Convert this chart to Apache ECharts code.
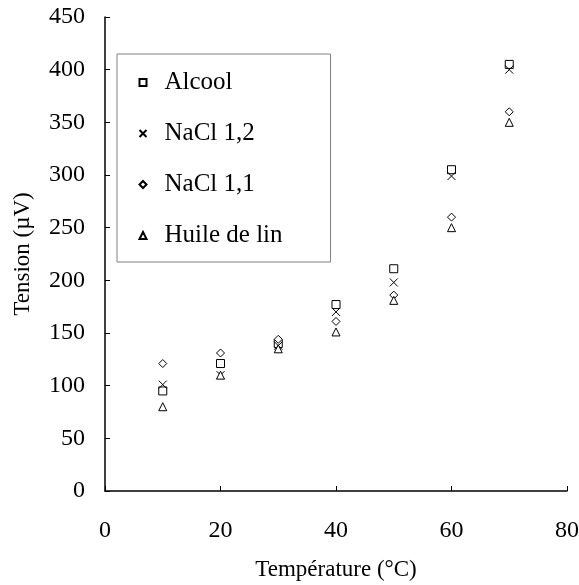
<!DOCTYPE html>
<html>
<head>
<meta charset="utf-8">
<script src="https://cdn.jsdelivr.net/npm/echarts@6/dist/echarts.min.js"></script>
<style>html,body{margin:0;padding:0;background:#fff}#c{width:579px;height:585px}</style>
</head>
<body>
<div id="c"></div>
<script>
const temperatures = [10, 20, 30, 40, 50, 60, 70];
const alcool = [95, 121, 140, 177, 211, 305, 405];
const nacl12 = [101, 110, 138, 170, 198, 299, 400];
const nacl11 = [121, 131, 144, 161, 186, 260, 360];
const huile = [80, 110, 135, 151, 181, 250, 350];
const seriesNames = ['Alcool', 'NaCl 1,2', 'NaCl 1,1', 'Huile de lin'];
const xTicks = [0, 20, 40, 60, 80];
const yTicks = [0, 50, 100, 150, 200, 250, 300, 350, 400, 450];

const font = '"Liberation Serif", "Times New Roman", serif';
const crossPath = 'path://M0,0L10,10M10,0L0,10';
function pts(v) { return temperatures.map((t, i) => [t, v[i]]); }
function mk(name, vals, symbol, size) {
  return {
    name: name, type: 'scatter', data: pts(vals), symbol: symbol, symbolSize: size,
    itemStyle: { color: symbol === crossPath ? 'none' : '#fff', borderColor: '#000', borderWidth: 1, opacity: 1 },
    emphasis: { disabled: true }, z: 3
  };
}
const chart = echarts.init(document.getElementById('c'), null, { renderer: 'canvas' });
chart.setOption({
  animation: false,
  backgroundColor: '#fff',
  textStyle: { fontFamily: font },
  grid: { left: 105, right: 12, top: 17, bottom: 94, containLabel: false, outerBoundsMode: 'none' },
  xAxis: {
    type: 'value', min: xTicks[0], max: xTicks[xTicks.length - 1], interval: 20,
    name: 'Température (°C)', nameLocation: 'middle', nameGap: 67,
    nameTextStyle: { fontFamily: font, fontSize: 23, color: '#000' },
    axisLine: { show: true, onZero: false, lineStyle: { color: '#000', width: 1.5 } },
    axisTick: { show: true, inside: true, length: 5, lineStyle: { color: '#000' } },
    axisLabel: { fontFamily: font, fontSize: 24, color: '#000', margin: 28 },
    splitLine: { show: false }
  },
  yAxis: {
    type: 'value', min: yTicks[0], max: yTicks[yTicks.length - 1], interval: 50,
    name: 'Tension (µV)', nameLocation: 'middle', nameGap: 71,
    nameTextStyle: { fontFamily: font, fontSize: 23, color: '#000' },
    axisLine: { show: true, onZero: false, lineStyle: { color: '#000', width: 1.5 } },
    axisTick: { show: true, inside: true, length: 5, lineStyle: { color: '#000' } },
    axisLabel: { fontFamily: font, fontSize: 24, color: '#000', margin: 20 },
    splitLine: { show: false }
  },
  legend: {
    orient: 'vertical', left: 117, top: 54,
    padding: [16, 48, 14, 20],
    itemWidth: 7, itemHeight: 7, itemGap: 26,
    borderColor: '#808080', borderWidth: 1, backgroundColor: '#fff',
    textStyle: { fontFamily: font, fontSize: 25, color: '#000', lineHeight: 25, padding: [0, 0, 0, 13] },
    data: seriesNames
  },
  series: [
    mk(seriesNames[0], alcool, 'rect', 8),
    mk(seriesNames[1], nacl12, crossPath, 8),
    mk(seriesNames[2], nacl11, 'diamond', 8),
    mk(seriesNames[3], huile, 'triangle', 8)
  ]
});
</script>
</body>
</html>
